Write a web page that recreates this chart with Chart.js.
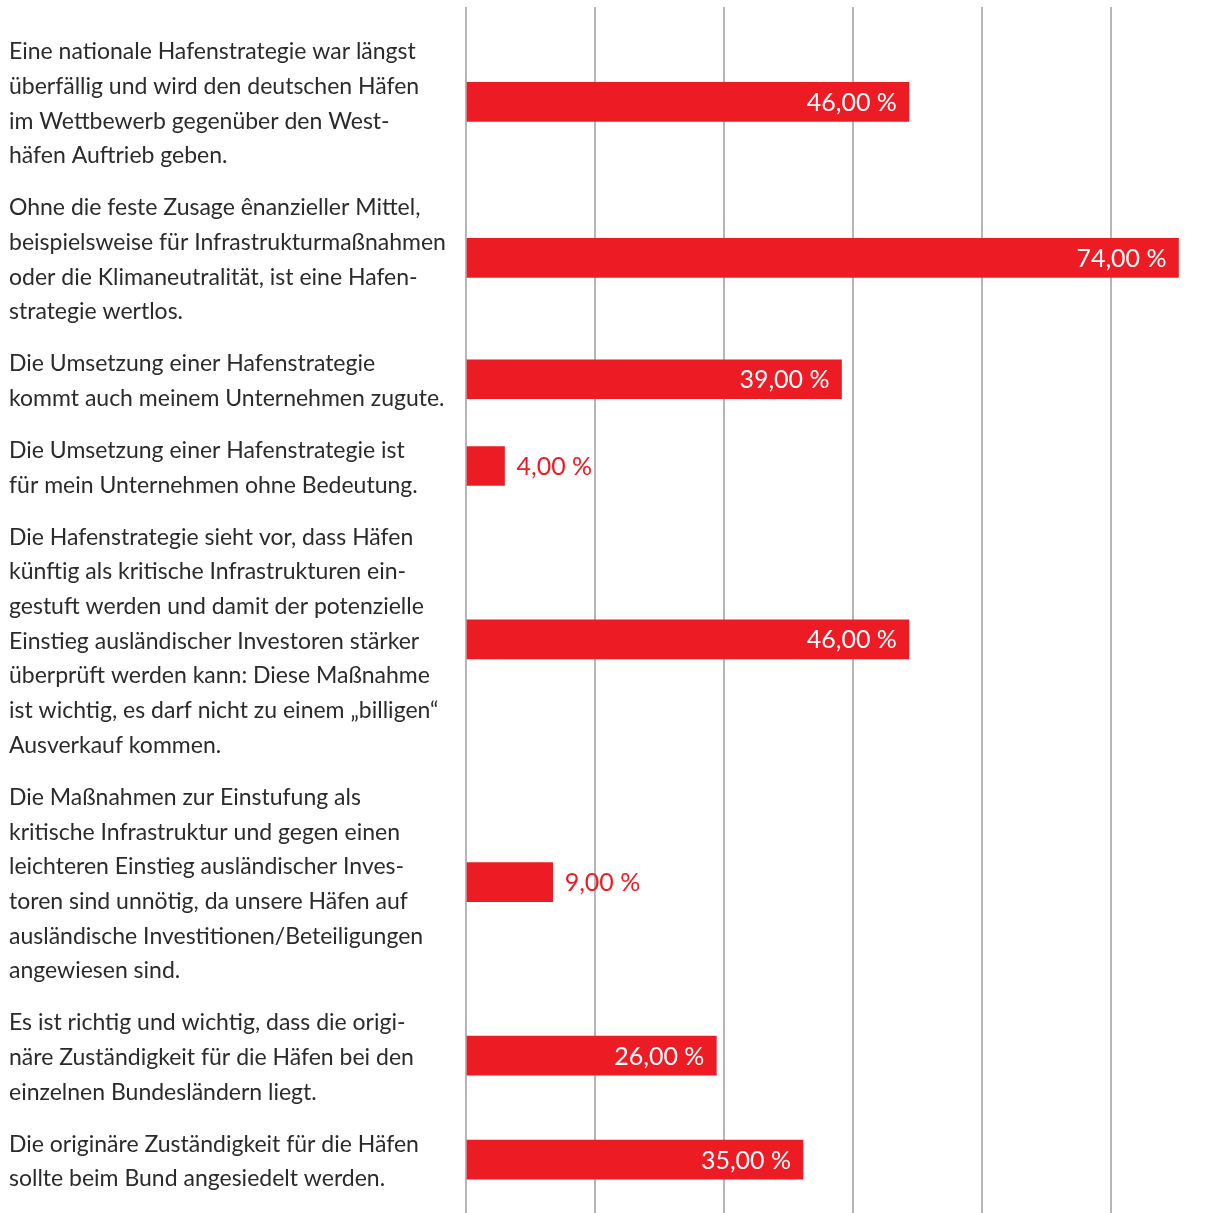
<!DOCTYPE html>
<html>
<head>
<meta charset="utf-8">
<script src="https://cdn.jsdelivr.net/npm/chart.js@4.4.0/dist/chart.umd.min.js"></script>
<style>
  html, body { margin: 0; padding: 0; background: #fff; }
  #wrap { position: relative; width: 1230px; height: 1213px; }
</style>
</head>
<body>
<div id="wrap"><canvas id="chart"></canvas></div>
<script>
// Aussagen zur nationalen Hafenstrategie (Zeilen wie im Original umbrochen)
const categories = [
  ["Eine nationale Hafenstrategie war längst", "überfällig und wird den deutschen Häfen", "im Wettbewerb gegenüber den West-", "häfen Auftrieb geben."],
  ["Ohne die feste Zusage ênanzieller Mittel,", "beispielsweise für Infrastrukturmaßnahmen", "oder die Klimaneutralität, ist eine Hafen-", "strategie wertlos."],
  ["Die Umsetzung einer Hafenstrategie", "kommt auch meinem Unternehmen zugute."],
  ["Die Umsetzung einer Hafenstrategie ist", "für mein Unternehmen ohne Bedeutung."],
  ["Die Hafenstrategie sieht vor, dass Häfen", "künftig als kritische Infrastrukturen ein-", "gestuft werden und damit der potenzielle", "Einstieg ausländischer Investoren stärker", "überprüft werden kann: Diese Maßnahme", "ist wichtig, es darf nicht zu einem „billigen“", "Ausverkauf kommen."],
  ["Die Maßnahmen zur Einstufung als", "kritische Infrastruktur und gegen einen", "leichteren Einstieg ausländischer Inves-", "toren sind unnötig, da unsere Häfen auf", "ausländische Investitionen/Beteiligungen", "angewiesen sind."],
  ["Es ist richtig und wichtig, dass die origi-", "näre Zuständigkeit für die Häfen bei den", "einzelnen Bundesländern liegt."],
  ["Die originäre Zuständigkeit für die Häfen", "sollte beim Bund angesiedelt werden."]
];
const shares = [46, 74, 39, 4, 46, 9, 26, 35];

const RED = '#ed1c24';
const TEXT = '#2b2b2b';
const FONT = 'Lato';

// each statement gets its own number of text lines plus half a line gap
const rows = [];
let start = 0;
categories.forEach(function (lines) {
  rows.push(start + lines.length / 2);
  start += lines.length + 0.5;
});

const fmt = v => v.toFixed(2).replace('.', ',') + ' %';

const valueLabels = {
  id: 'valueLabels',
  afterDatasetsDraw(chart) {
    const ctx = chart.ctx;
    const meta = chart.getDatasetMeta(0);
    ctx.save();
    ctx.font = '25px "' + FONT + '"';
    ctx.textBaseline = 'middle';
    meta.data.forEach(function (bar, i) {
      const txt = fmt(shares[i]);
      const w = ctx.measureText(txt).width;
      const len = bar.x - bar.base;
      if (len > w + 26) {
        ctx.fillStyle = '#fff';
        ctx.textAlign = 'right';
        ctx.fillText(txt, bar.x - 12, bar.y + 1);
      } else {
        ctx.fillStyle = RED;
        ctx.textAlign = 'left';
        ctx.fillText(txt, bar.x + 12, bar.y + 1);
      }
    });
    ctx.restore();
  }
};

new Chart(document.getElementById('chart'), {
  type: 'bar',
  data: {
    datasets: [{
      data: shares.map((v, i) => ({ x: v, y: rows[i] })),
      backgroundColor: RED,
      borderWidth: 0,
      barThickness: 39
    }]
  },
  options: {
    indexAxis: 'y',
    responsive: true,
    maintainAspectRatio: false,
    animation: false,
    layout: { padding: { left: 9, top: 7, right: 0, bottom: 0 } },
    plugins: { legend: { display: false }, tooltip: { enabled: false } },
    scales: {
      x: {
        type: 'linear',
        min: 0,
        max: 79.35,
        grid: { color: '#b6b6ba', lineWidth: 2, drawTicks: false },
        border: { display: false },
        ticks: { display: false, stepSize: 13.4, includeBounds: false },
        afterFit: s => { s.height = 0; s.paddingLeft = 0; s.paddingRight = 0; }
      },
      y: {
        type: 'linear',
        reverse: true,
        offset: false,
        min: -0.735,
        max: 34.04,
        grid: { display: false },
        border: { display: false },
        afterBuildTicks: s => { s.ticks = rows.map(v => ({ value: v })); },
        ticks: {
          autoSkip: false,
          crossAlign: 'far',
          padding: 0,
          labelOffset: 2,
          color: TEXT,
          font: { family: FONT, size: 23, lineHeight: 34.68 / 23 },
          callback: (v, i) => categories[i]
        },
        afterFit: s => { s.width = 457; s.paddingTop = 0; s.paddingBottom = 0; }
      }
    }
  },
  plugins: [valueLabels]
});
</script>
</body>
</html>
